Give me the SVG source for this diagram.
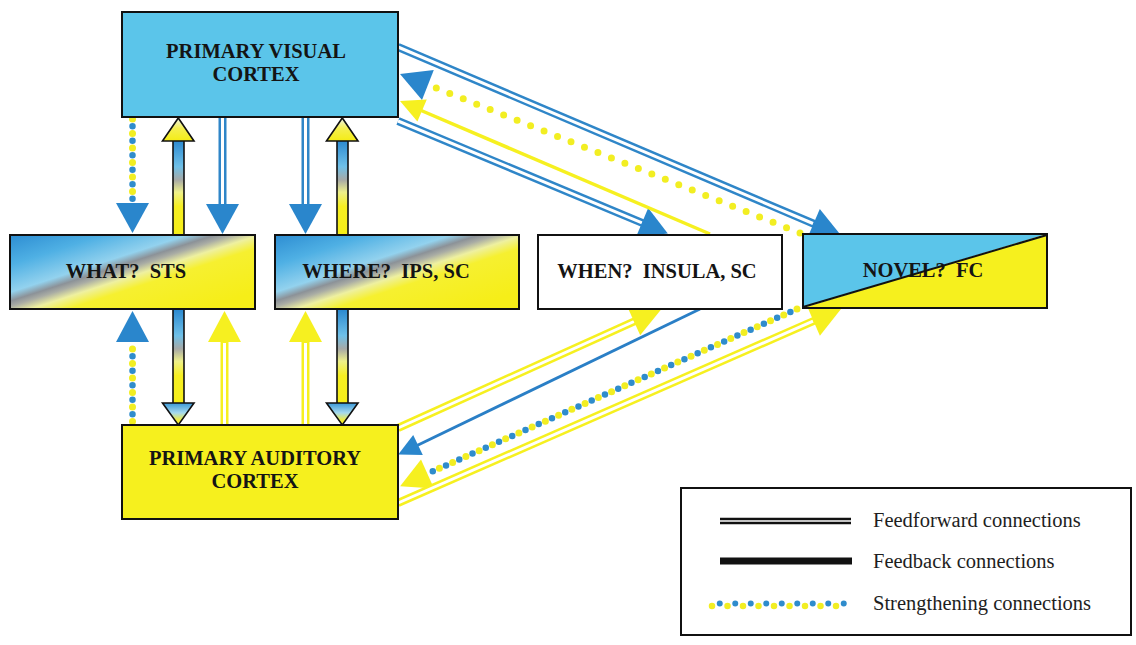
<svg xmlns="http://www.w3.org/2000/svg" width="1136" height="645" viewBox="0 0 1136 645">
  <defs>
    <!-- diagonal blue/grey/yellow wash used by the two mixed-modality boxes -->
    <linearGradient id="mixWash" x1="0" y1="0" x2="0.92" y2="0.86">
      <stop offset="0" stop-color="#2d8dd2"/>
      <stop offset="0.22" stop-color="#4fb0e4"/>
      <stop offset="0.42" stop-color="#93d2ee"/>
      <stop offset="0.485" stop-color="#8c9298"/>
      <stop offset="0.525" stop-color="#a9aca4"/>
      <stop offset="0.59" stop-color="#eef0a0"/>
      <stop offset="0.68" stop-color="#f6f030"/>
      <stop offset="1" stop-color="#f6ee18"/>
    </linearGradient>
    <!-- shaft of the feedback arrows: blue on top fading through grey to yellow -->
    <linearGradient id="shaftWash" x1="0" y1="0" x2="0" y2="1">
      <stop offset="0" stop-color="#2a88cf"/>
      <stop offset="0.28" stop-color="#6fc0e8"/>
      <stop offset="0.42" stop-color="#a7a9a6"/>
      <stop offset="0.55" stop-color="#eef08a"/>
      <stop offset="0.7" stop-color="#f6ef22"/>
      <stop offset="1" stop-color="#f6ee18"/>
    </linearGradient>
    <linearGradient id="headUp" x1="0" y1="0" x2="0" y2="1">
      <stop offset="0" stop-color="#eef4f0"/>
      <stop offset="0.45" stop-color="#f4ef50"/>
      <stop offset="1" stop-color="#f4ec14"/>
    </linearGradient>
    <linearGradient id="headDown" x1="0" y1="0" x2="0" y2="1">
      <stop offset="0" stop-color="#3a98d8"/>
      <stop offset="0.45" stop-color="#a6daee"/>
      <stop offset="0.8" stop-color="#f5ee30"/>
      <stop offset="1" stop-color="#f5ee20"/>
    </linearGradient>
  </defs>
  <style>
    .box { stroke: #111; stroke-width: 2; }
    .label { font-family: "Liberation Serif", "Times New Roman", serif; font-weight: bold; font-size: 20.5px; fill: #141414; text-anchor: middle; }
    .legend-text { font-family: "Liberation Serif", "Times New Roman", serif; font-size: 20.5px; fill: #1e1e1e; }
    .ff-blue { stroke: #2f86c8; stroke-width: 8; fill: none; }
    .ff-yellow { stroke: #f6f020; stroke-width: 8; fill: none; }
    .gap { stroke: #ffffff; stroke-width: 3; fill: none; }
    .fb-blue { stroke: #2a7fc6; stroke-width: 3; fill: none; }
    .fb-yellow { stroke: #f6f020; stroke-width: 3.5; fill: none; }
    .dot-y { stroke: #f2ee22; stroke-width: 7; stroke-linecap: round; stroke-dasharray: 0 14.5; fill: none; }
    .dot-b { stroke: #2f8ccc; stroke-width: 6.5; stroke-linecap: round; stroke-dasharray: 0 14.5; stroke-dashoffset: -7.25; fill: none; }
    .head-blue { fill: #2a86cc; }
    .head-yellow { fill: #f6f020; }
    .shaft { fill: url(#shaftWash); stroke: #111; stroke-width: 1.6; }
    .head-up { fill: url(#headUp); stroke: #111; stroke-width: 1.6; }
    .head-down { fill: url(#headDown); stroke: #111; stroke-width: 1.6; }
  </style>

  <rect width="1136" height="645" fill="#ffffff"/>

  <g id="connectors">
    <!-- visual cortex -> what / where (vertical) -->
    <line class="dot-y" x1="132.5" y1="119" x2="132.5" y2="200"/>
    <line class="dot-b" x1="132.5" y1="119" x2="132.5" y2="200"/>
    <polygon class="head-blue" points="116,203 149,203 132.5,233"/>

    <rect class="shaft" x="173" y="140" width="11" height="95"/>
    <polygon class="head-up" points="162.5,141 194,141 178.3,118"/>

    <line class="ff-blue" x1="222.5" y1="118" x2="222.5" y2="206"/>
    <line class="gap" x1="222.5" y1="118" x2="222.5" y2="204"/>
    <polygon class="head-blue" points="206,204 239,204 222.5,234"/>

    <line class="ff-blue" x1="305.5" y1="118" x2="305.5" y2="206"/>
    <line class="gap" x1="305.5" y1="118" x2="305.5" y2="204"/>
    <polygon class="head-blue" points="289,204 322,204 305.5,234"/>

    <rect class="shaft" x="337" y="140" width="11" height="95"/>
    <polygon class="head-up" points="326.5,141 358,141 342.3,118"/>

    <!-- auditory cortex -> what / where (vertical) -->
    <line class="dot-y" x1="132.5" y1="349" x2="132.5" y2="425"/>
    <line class="dot-b" x1="132.5" y1="349" x2="132.5" y2="425"/>
    <polygon class="head-blue" points="116,342 149,342 132.5,311"/>

    <rect class="shaft" x="173" y="309" width="11" height="95"/>
    <polygon class="head-down" points="162.5,403 194,403 178.3,425"/>

    <line class="ff-yellow" x1="224.5" y1="341" x2="224.5" y2="426"/>
    <line class="gap" x1="224.5" y1="343" x2="224.5" y2="426"/>
    <polygon class="head-yellow" points="208,342 241,342 224.5,311"/>

    <line class="ff-yellow" x1="305.5" y1="341" x2="305.5" y2="426"/>
    <line class="gap" x1="305.5" y1="343" x2="305.5" y2="426"/>
    <polygon class="head-yellow" points="289,342 322,342 305.5,311"/>

    <rect class="shaft" x="337" y="309" width="11" height="95"/>
    <polygon class="head-down" points="326.5,403 358,403 342.3,425"/>

    <!-- visual cortex <-> novel / when (diagonals) -->
    <line class="ff-blue" x1="398" y1="47" x2="815" y2="224.3"/>
    <line class="gap" x1="398" y1="47" x2="813" y2="223.5"/>
    <polygon class="head-blue" points="819.8,209 841.1,235.4 807.2,238.4"/>

    <line class="ff-blue" x1="398" y1="121" x2="644" y2="223.6"/>
    <line class="gap" x1="398" y1="121" x2="642" y2="222.8"/>
    <polygon class="head-blue" points="648.2,208 667.8,233.6 635.8,237.6"/>

    <line class="dot-y" x1="800" y1="233" x2="436" y2="88"/>
    <polygon class="head-blue" points="400,74 433.8,70.1 422,99.9"/>

    <line class="fb-yellow" x1="710" y1="234" x2="420" y2="110"/>
    <polygon class="head-yellow" points="400,101 426.8,99.5 417.4,121.5"/>

    <!-- auditory cortex <-> when / novel (diagonals) -->
    <line class="ff-yellow" x1="398" y1="428" x2="636" y2="320.6"/>
    <line class="gap" x1="398" y1="428" x2="634" y2="321.5"/>
    <polygon class="head-yellow" points="627.8,307.8 661.3,309.2 640.2,335.2"/>

    <line class="fb-blue" x1="700" y1="309" x2="416" y2="446"/>
    <polygon class="head-blue" points="398.2,454.6 422.8,454.9 413.2,435.1"/>

    <line class="dot-y" x1="797" y1="309" x2="429" y2="473"/>
    <line class="dot-b" x1="797" y1="309" x2="429" y2="473"/>
    <polygon class="head-yellow" points="400.1,486.2 434,488.6 421,459.4"/>

    <line class="ff-yellow" x1="398" y1="503" x2="815" y2="320.3"/>
    <line class="gap" x1="398" y1="503" x2="813" y2="321.2"/>
    <polygon class="head-yellow" points="807.1,306.3 841,309 819.9,335.7"/>
  </g>

  <g id="node-visual">
    <rect class="box" x="122" y="12" width="276" height="105" fill="#5bc5ea"/>
    <text class="label" x="256" y="58">PRIMARY VISUAL</text>
    <text class="label" x="256" y="81">CORTEX</text>
  </g>

  <g id="node-what">
    <rect class="box" x="10" y="235" width="245" height="74" fill="url(#mixWash)"/>
    <text class="label" x="126" y="278">WHAT?&#160; STS</text>
  </g>

  <g id="node-where">
    <rect class="box" x="275" y="235" width="244" height="74" fill="url(#mixWash)"/>
    <text class="label" x="386" y="278">WHERE?&#160; IPS, SC</text>
  </g>

  <g id="node-when">
    <rect class="box" x="538" y="235" width="244" height="74" fill="#ffffff"/>
    <text class="label" x="657" y="278">WHEN?&#160; INSULA, SC</text>
  </g>

  <g id="node-novel">
    <polygon points="803,234 1047,234 803,307" fill="#5bc5ea"/>
    <polygon points="1047,234 1047,308 803,308" fill="#f6f01e"/>
    <text class="label" x="923" y="277">NOVEL?&#160; FC</text>
    <rect class="box" x="803" y="234" width="244" height="74" fill="none"/>
    <line x1="803" y1="307" x2="1047" y2="235" stroke="#111" stroke-width="2"/>
  </g>

  <g id="node-auditory">
    <rect class="box" x="122" y="425" width="276" height="94" fill="#f6f01e"/>
    <text class="label" x="255" y="465">PRIMARY AUDITORY</text>
    <text class="label" x="255" y="488">CORTEX</text>
  </g>

  <g id="legend">
    <rect x="681" y="488" width="450" height="147" fill="#ffffff" stroke="#111" stroke-width="2"/>
    <line x1="720" y1="521" x2="851" y2="521" stroke="#111" stroke-width="6.5"/>
    <line x1="720" y1="521" x2="851" y2="521" stroke="#ffffff" stroke-width="1.6"/>
    <line x1="720" y1="561" x2="852" y2="561" stroke="#111" stroke-width="7"/>
    <line x1="712" y1="606" x2="850" y2="606" stroke="#f2ee22" stroke-width="6.5" stroke-linecap="round" stroke-dasharray="0 15.5"/>
    <line x1="719.75" y1="603.5" x2="850" y2="603.5" stroke="#2f8ccc" stroke-width="6" stroke-linecap="round" stroke-dasharray="0 15.5"/>
    <text class="legend-text" x="873" y="527">Feedforward connections</text>
    <text class="legend-text" x="873" y="568">Feedback connections</text>
    <text class="legend-text" x="873" y="610">Strengthening connections</text>
  </g>
</svg>
